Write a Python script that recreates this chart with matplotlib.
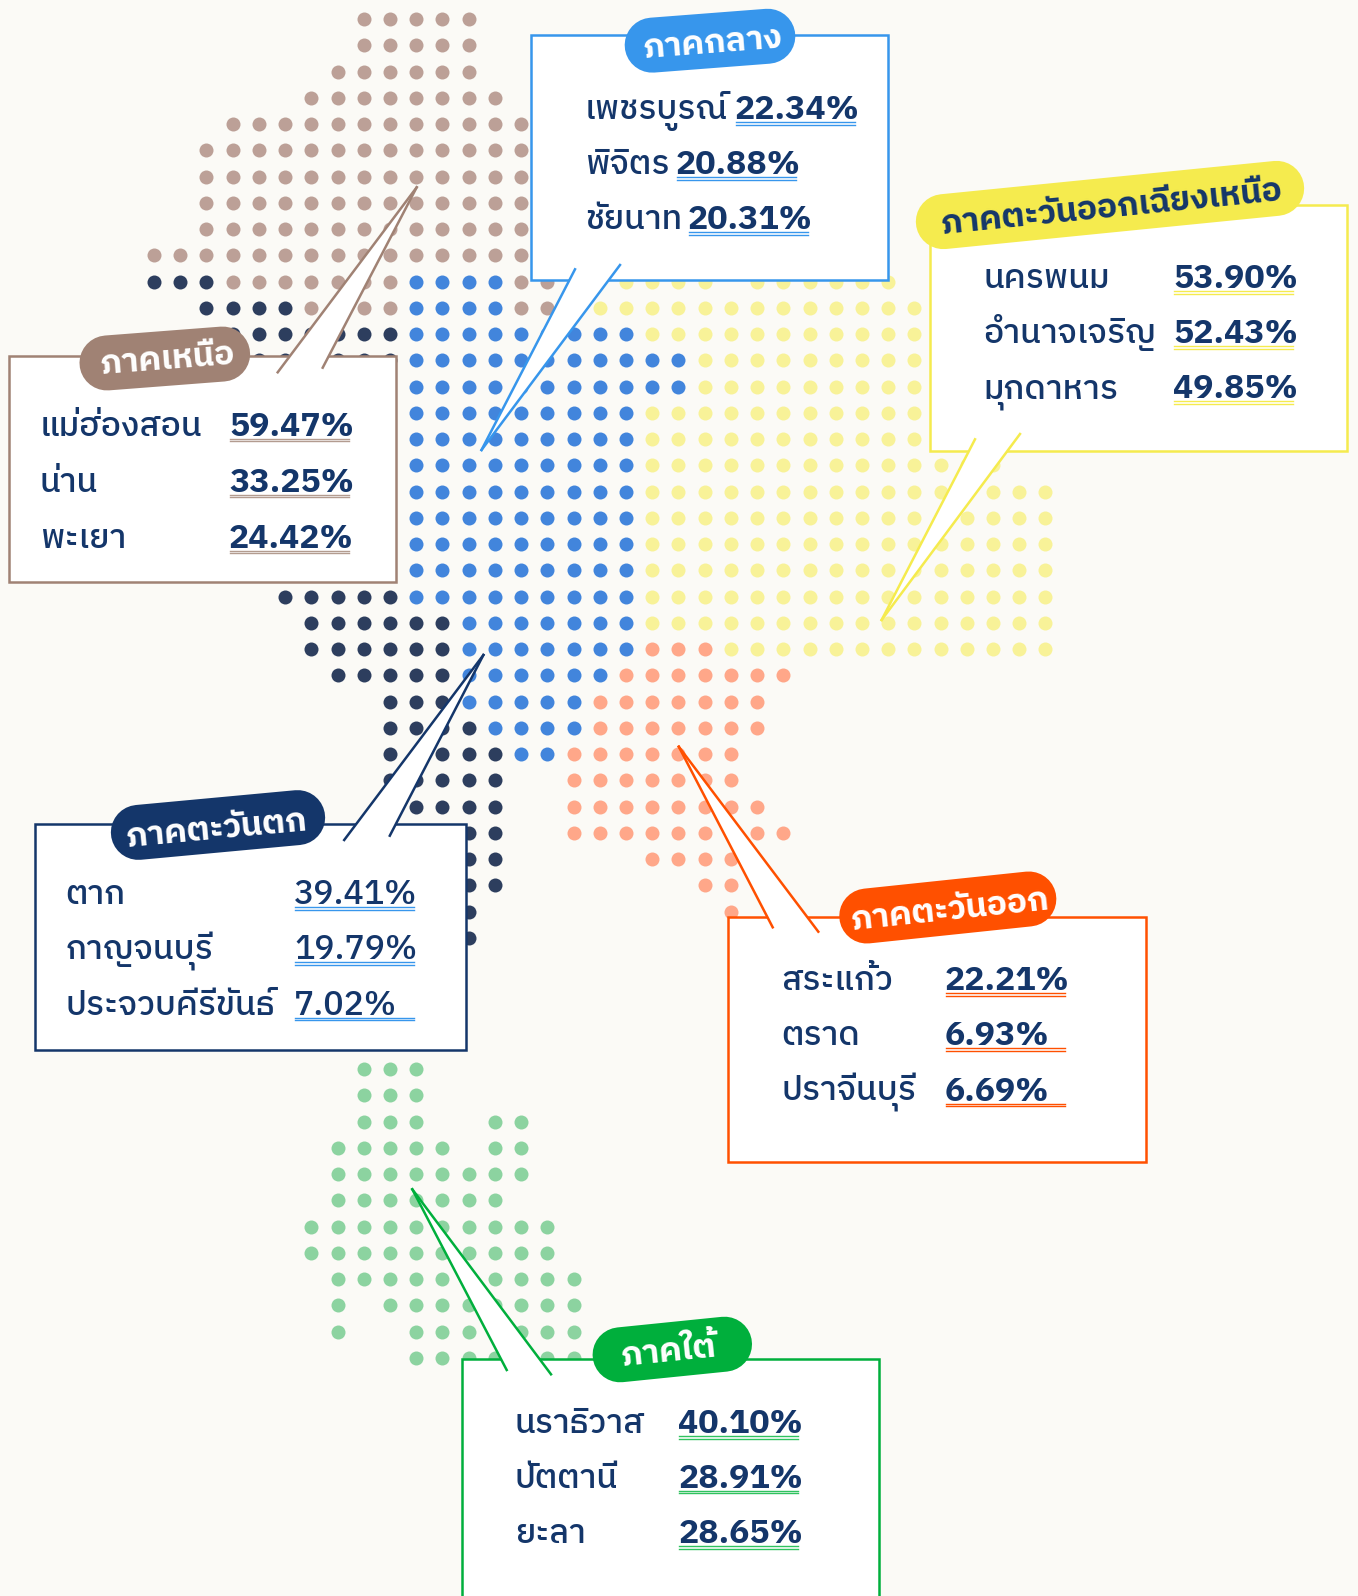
import numpy as np
import matplotlib
matplotlib.use("Agg")
import matplotlib.pyplot as plt
from matplotlib.patches import Polygon, Rectangle

plt.rcParams['font.family'] = ['IBM Plex Sans Thai', 'DejaVu Sans']

# dot map: for each region {row: [(first col, last col), ...]}
north = {0: [(8, 12)], 1: [(8, 12)], 2: [(7, 12)], 3: [(6, 13)], 4: [(3, 14)], 5: [(2, 14)], 6: [(2, 14)],
         7: [(2, 14)], 8: [(2, 14)], 9: [(0, 14)], 10: [(3, 9), (14, 15)], 11: [(6, 9), (14, 15)]}
west = {10: [(0, 2)], 11: [(2, 5)], 12: [(3, 9)], 13: [(3, 9)], 22: [(5, 9)], 23: [(6, 11)], 24: [(6, 11)],
        25: [(7, 11)], 26: [(9, 11)], 27: [(9, 12)], 28: [(9, 13)], 29: [(9, 13)], 30: [(10, 13)], 31: [(11, 13)],
        32: [(12, 13)], 33: [(12, 13)], 34: [(12, 12)], 35: [(12, 12)]}
central = {10: [(10, 13)], 11: [(10, 13)], 12: [(10, 18)], 13: [(10, 20)], 14: [(10, 20)], 15: [(10, 18)],
           16: [(10, 18)], 17: [(10, 18)], 18: [(10, 18)], 19: [(10, 18)], 20: [(10, 18)], 21: [(10, 18)],
           22: [(10, 18)], 23: [(12, 18)], 24: [(12, 18)], 25: [(12, 17)], 26: [(12, 16)], 27: [(13, 16)],
           28: [(14, 15)]}
northeast = {10: [(18, 21), (23, 28)], 11: [(17, 29)], 12: [(19, 29)], 13: [(21, 29)], 14: [(21, 29)],
             15: [(19, 29)], 16: [(19, 29)], 17: [(19, 32)], 18: [(19, 34)], 19: [(19, 34)], 20: [(19, 34)],
             21: [(19, 34)], 22: [(19, 34)], 23: [(19, 34)], 24: [(22, 34)]}
east = {24: [(19, 21)], 25: [(18, 24)], 26: [(17, 23)], 27: [(17, 23)], 28: [(16, 22)], 29: [(16, 22)],
        30: [(16, 23)], 31: [(16, 24)], 32: [(19, 22)], 33: [(21, 22)], 34: [(22, 22)]}
south = {40: [(8, 10)], 41: [(8, 10)], 42: [(8, 10), (13, 14)], 43: [(7, 11), (13, 14)], 44: [(7, 14)],
         45: [(7, 13)], 46: [(6, 15)], 47: [(6, 15)], 48: [(7, 16)], 49: [(7, 7), (9, 16)], 50: [(7, 7), (10, 16)],
         51: [(10, 16)]}

regions = ['ภาคเหนือ', 'ภาคกลาง', 'ภาคตะวันออกเฉียงเหนือ', 'ภาคตะวันตก', 'ภาคตะวันออก', 'ภาคใต้']
names = [['แม่ฮ่องสอน', 'น่าน', 'พะเยา'],
         ['เพชรบูรณ์', 'พิจิตร', 'ชัยนาท'],
         ['นครพนม', 'อำนาจเจริญ', 'มุกดาหาร'],
         ['ตาก', 'กาญจนบุรี', 'ประจวบคีรีขันธ์'],
         ['สระแก้ว', 'ตราด', 'ปราจีนบุรี'],
         ['นราธิวาส', 'ปัตตานี', 'ยะลา']]
values = [['59.47%', '33.25%', '24.42%'],
          ['22.34%', '20.88%', '20.31%'],
          ['53.90%', '52.43%', '49.85%'],
          ['39.41%', '19.79%', '7.02%'],
          ['22.21%', '6.93%', '6.69%'],
          ['40.10%', '28.91%', '28.65%']]

NAVY = '#14366a'
BG = '#fbfaf6'
W, H = 1358, 1596
X0, DX = 154, 26.22
Y0, DY = 19.1, 26.25

fig = plt.figure(figsize=(W / 100, H / 100), dpi=100, facecolor=BG)
ax = fig.add_axes([0, 0, 1, 1])
ax.set_xlim(0, W)
ax.set_ylim(H, 0)
ax.axis('off')


def dots(cells, color):
    xs, ys = [], []
    for row, spans in cells.items():
        for a, b in spans:
            for c in range(a, b + 1):
                xs.append(X0 + DX * c)
                ys.append(Y0 + DY * row)
    # 14 px wide dots
    ax.scatter(xs, ys, s=(14 * 0.72) ** 2, color=color, linewidths=0, zorder=1)


dots(north, '#bca097')
dots(west, '#2d3e5e')
dots(central, '#4285dc')
dots(northeast, '#f8f298')
dots(east, '#ffa789')
dots(south, '#8cd3a0')


def card(box, tip, base, color, under, pill, shift, title, title_color, nm, val, nx, vx, ys, val_weight='bold', vxs=None):
    l, t, r, b = box
    ax.add_patch(Rectangle((l, t), r - l, b - t, fc='white', ec=color, lw=1.8, zorder=2))
    ax.add_patch(Polygon([tip, base[0], base[1]], closed=True, fc='white', ec='none', zorder=3))
    for p in base:
        ax.plot([tip[0], p[0]], [tip[1], p[1]], color=color, lw=1.8, zorder=4)
    # title pill is a thick line with round ends
    cx, cy, w, ang = pill
    h = 55
    dx = (w - h) / 2 * np.cos(np.radians(ang))
    dy = (w - h) / 2 * np.sin(np.radians(ang))
    ax.plot([cx - dx, cx + dx], [cy + dy, cy - dy], color=color, lw=h * 0.72, solid_capstyle='round', zorder=5)
    ax.text(cx + shift[0], cy + 3 + shift[1], title, color=title_color, fontsize=24.3, fontweight='bold', rotation=ang,
            rotation_mode='anchor', ha='center', va='center', zorder=6)
    for i in range(3):
        x = vxs[i] if vxs else vx
        y = ys[i] - 0.7
        ax.text(nx, y, nm[i], color=NAVY, fontsize=24.2, fontweight='medium', va='baseline', zorder=6)
        ax.text(x, y, val[i], color=NAVY, fontsize=24.4, fontweight=val_weight, va='baseline', zorder=6)
        ax.plot([x + 1, x + 120], [y + 3] * 2, color=under, lw=1, zorder=5)
        ax.plot([x + 1, x + 120], [y + 5.4] * 2, color=under, lw=1, zorder=5)


card((9, 356, 396, 582), (416.7, 187.3), [(277.7, 372.3), (322.7, 367.7)], '#a08274', '#b39c90',
     (164.8, 358.5, 171, 4.4), (2.5, -2), regions[0], 'white', names[0], values[0], 39.7, 229, [436.7, 492.7, 548.3])
card((531, 35, 888, 280), (481.5, 450), [(575, 269.3), (620, 265)], '#3796ec', '#3796ec',
     (710, 40.7, 171, 4.4), (2.5, 0), regions[1], 'white', names[1], values[1], 584.7, 735, [120, 175, 230],
     vxs=[735, 676, 688])
card((930, 205, 1347, 451), (881.6, 620), [(975, 439.3), (1020, 434)], '#f5eb4e', '#f5eb4e',
     (1110, 205, 390, 5.7), (1.5, 0), regions[2], NAVY, names[2], values[2], 983.7, 1173, [289, 344, 399])
card((35, 824, 466, 1050), (483.4, 655), [(344.2, 840), (389.8, 835.7)], '#14366a', '#3796ec',
     (218, 825, 215, 5.3), (-1.5, 2), regions[3], 'white', names[3], values[3], 65.3, 294, [905, 960, 1015.3],
     val_weight='medium')
card((728, 917, 1146, 1162), (678.8, 746.7), [(772.7, 927.3), (818.3, 931.7)], '#ff5000', '#ff5000',
     (947.8, 907.5, 218, 6), (2.5, 0), regions[4], 'white', names[4], values[4], 781.3, 945, [991, 1046, 1101.7])
card((462, 1359, 879, 1640), (412.3, 1189.3), [(506.7, 1370), (551, 1374.3)], '#00af3c', '#2fc25f',
     (672.3, 1349.5, 160, 5.8), (-3.5, 0), regions[5], 'white', names[5], values[5], 514.7, 678.3, [1434, 1488.3, 1544])

fig.savefig('out.png', dpi=100, facecolor=BG)
